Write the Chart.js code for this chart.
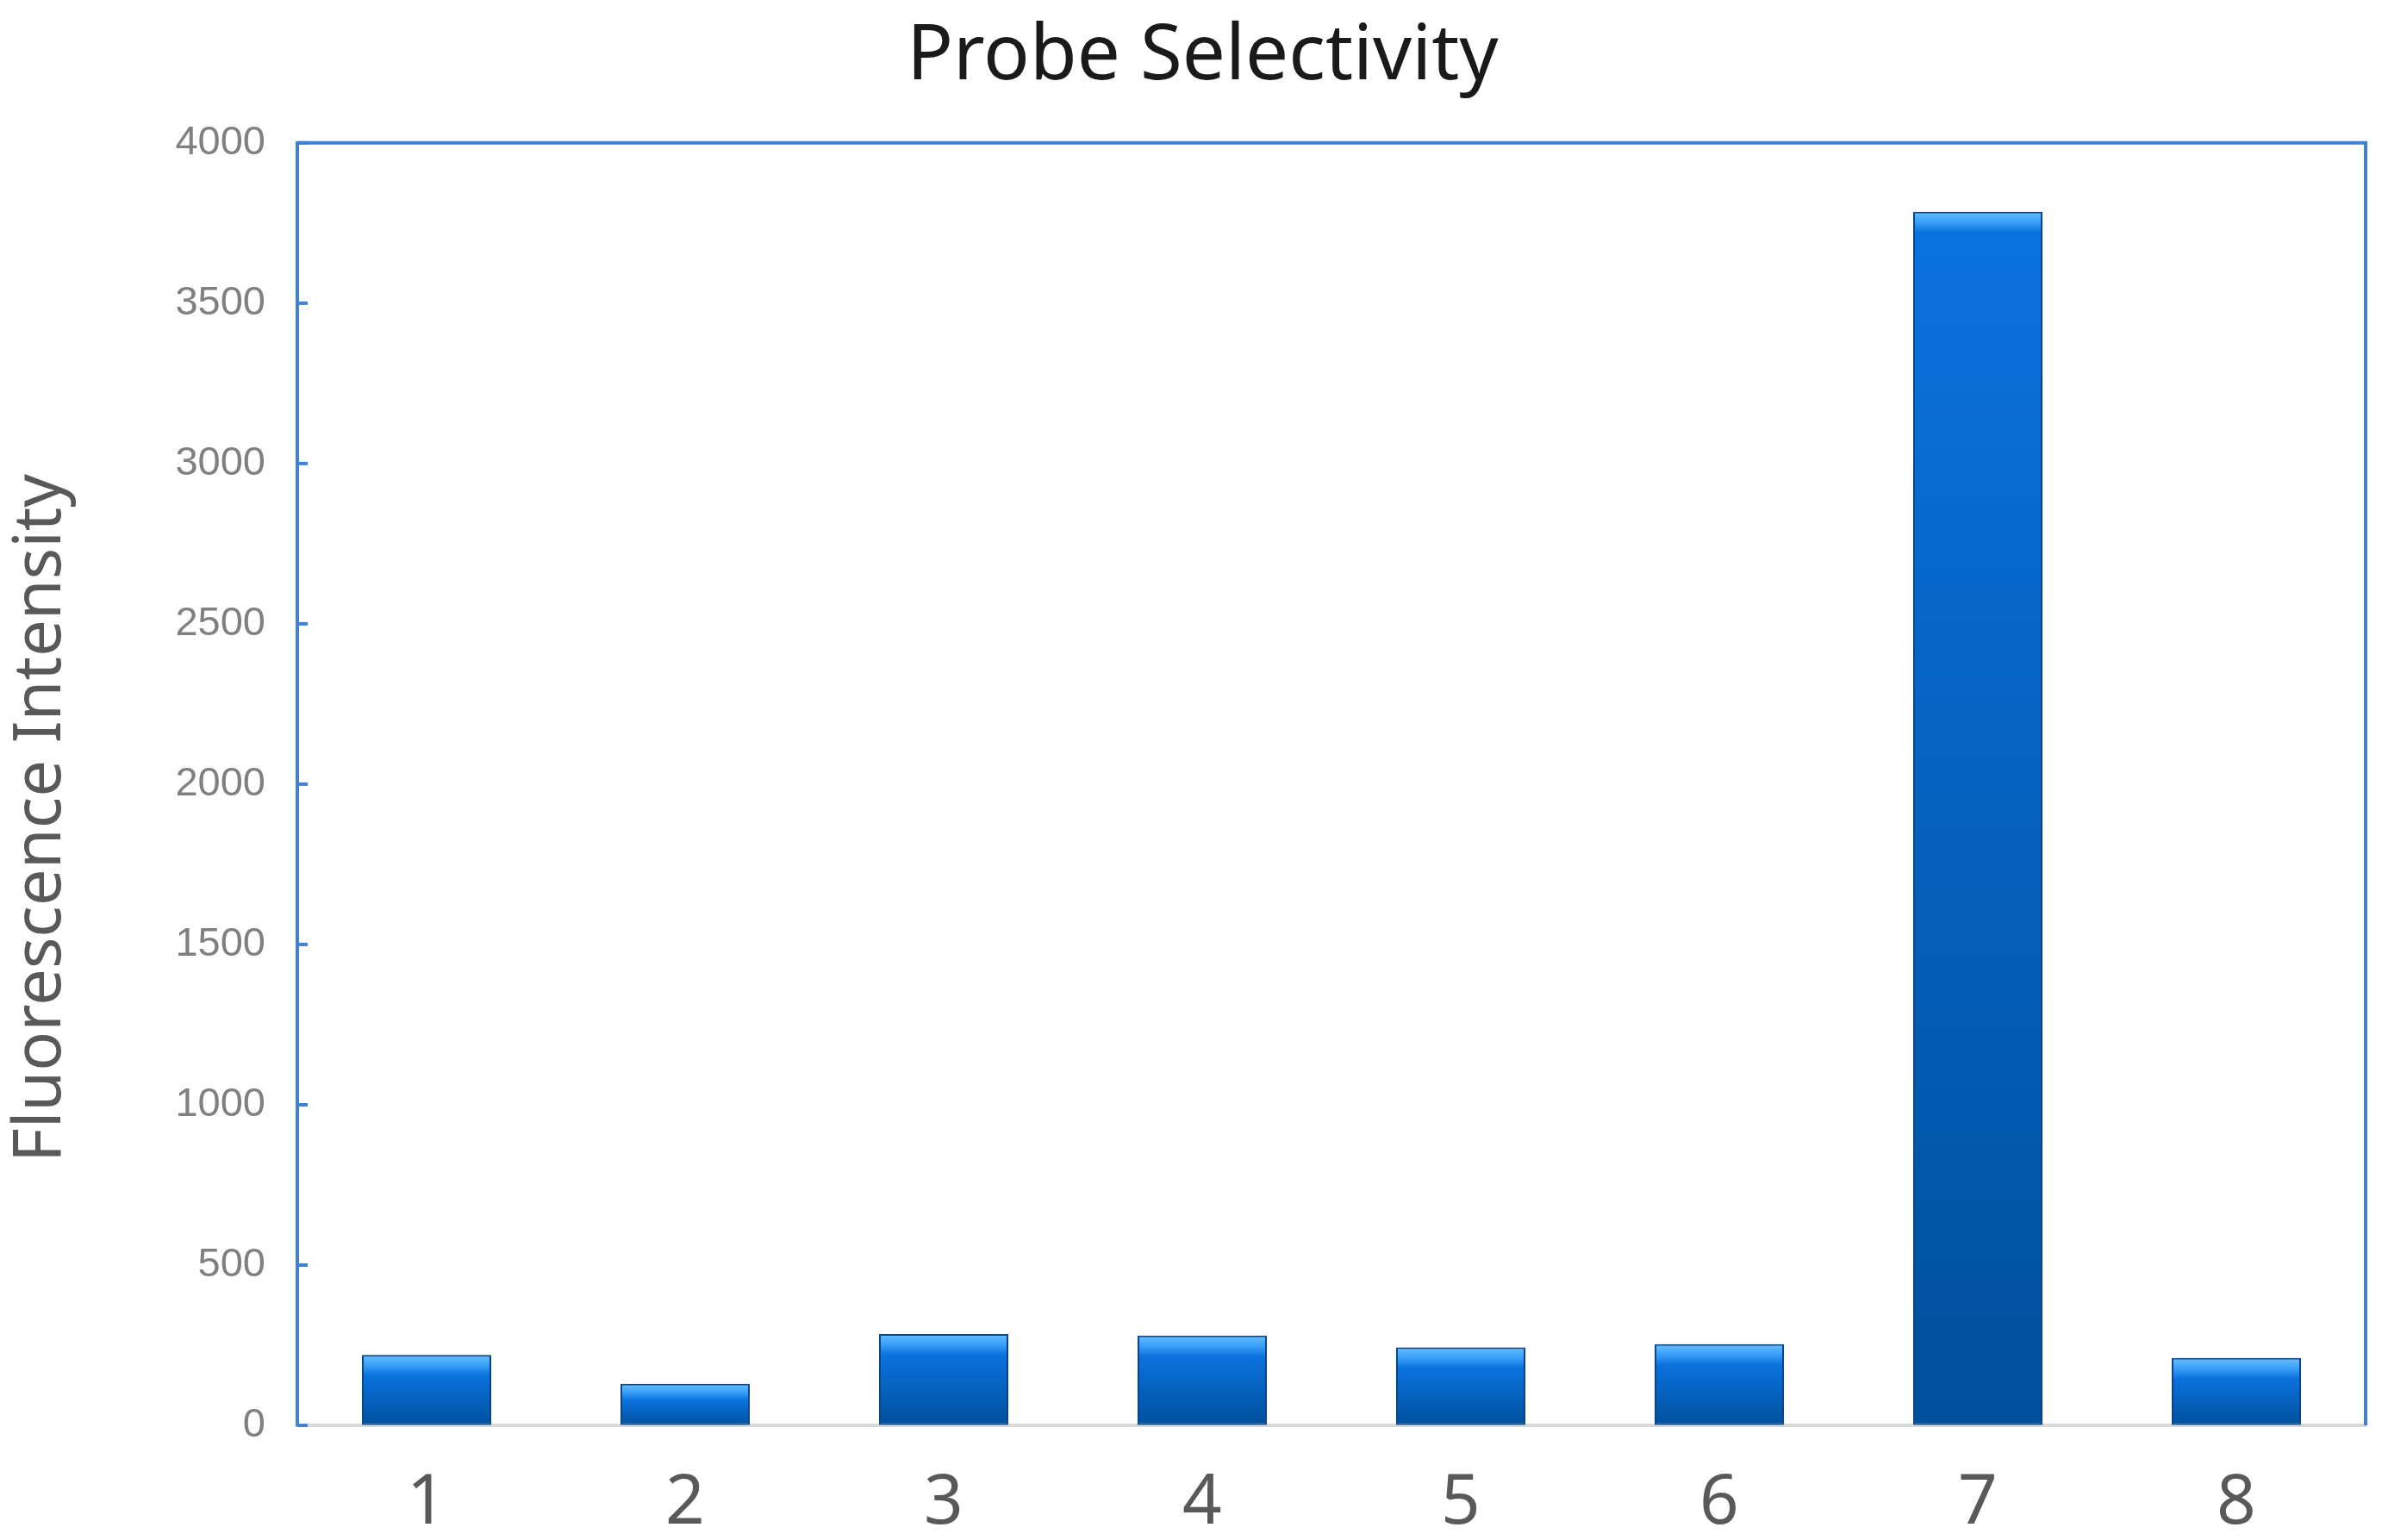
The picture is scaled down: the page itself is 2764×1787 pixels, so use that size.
<!DOCTYPE html>
<html>
<head>
<meta charset="utf-8">
<script src="https://cdn.jsdelivr.net/npm/chart.js@4/dist/chart.umd.min.js"></script>
<style>
  html, body { margin: 0; padding: 0; background: #fff; }
  #wrap { width: 2764px; height: 1787px; }
</style>
</head>
<body>
<div id="wrap"><canvas id="probeChart"></canvas></div>
<script>
// ── Data ──────────────────────────────────────────────────────────────────────
const categories = ['1', '2', '3', '4', '5', '6', '7', '8'];
const intensity  = [220, 130, 285, 280, 243, 253, 3785, 210];
const yMin = 0, yMax = 4000, yStep = 500;

const AXIS_BLUE = '#3f80d8';

// vertical gradient per bar, light bevel on top, darker towards base
function barFill(c) {
  const chart = c.chart;
  if (!chart.chartArea || c.type !== 'data') return '#0068d0';
  const y = chart.scales.y;
  const top = y.getPixelForValue(c.raw), base = y.getPixelForValue(0);
  const h = Math.max(base - top, 1);
  const b = Math.min(24 / h, 0.4);
  const g = chart.ctx.createLinearGradient(0, top, 0, base);
  g.addColorStop(0, '#66bfff');
  g.addColorStop(b * 0.5, '#3a9ff8');
  g.addColorStop(b, '#0a72de');
  g.addColorStop(1, '#00509c');
  return g;
}

// top/right frame + inward tick marks on the y axis
const framePlugin = {
  id: 'frame',
  beforeDatasetsDraw(chart) {
    const {ctx, chartArea: a, scales: {y}} = chart;
    ctx.save();
    ctx.strokeStyle = AXIS_BLUE;
    ctx.lineWidth = 4;
    ctx.beginPath();
    ctx.moveTo(a.left, a.top);
    ctx.lineTo(a.right, a.top);
    ctx.lineTo(a.right, a.bottom);
    ctx.stroke();
    y.ticks.forEach(t => {
      const py = y.getPixelForValue(t.value);
      ctx.beginPath();
      ctx.moveTo(a.left, py);
      ctx.lineTo(a.left + 12, py);
      ctx.stroke();
    });
    ctx.restore();
    ctx.save();
    ctx.shadowColor = 'rgba(0,0,0,0.28)';
    ctx.shadowBlur = 10;
  },
  afterDatasetsDraw(chart) {
    chart.ctx.restore();
  }
};

new Chart(document.getElementById('probeChart'), {
  type: 'bar',
  data: {
    labels: categories,
    datasets: [{
      data: intensity,
      backgroundColor: barFill,
      borderColor: '#0b4f96',
      borderWidth: 2,
      borderSkipped: false,
      barPercentage: 0.5,
      categoryPercentage: 1
    }]
  },
  options: {
    responsive: true,
    maintainAspectRatio: false,
    animation: false,
    layout: { padding: { left: 46, right: 19, top: 0, bottom: 0 } },
    plugins: {
      legend: { display: false },
      tooltip: { enabled: false },
      title: {
        display: true,
        text: 'Probe Selectivity',
        color: '#1a1a1a',
        font: { family: "'Noto Sans', sans-serif", size: 89, weight: 'normal' },
        padding: { top: 13, bottom: 46 }
      }
    },
    scales: {
      x: {
        grid: { display: false, drawTicks: false },
        border: { display: true, color: '#d9d9d9', width: 4 },
        ticks: {
          color: '#595959',
          padding: 43,
          font: { family: "'Noto Sans', sans-serif", size: 80 }
        },
        afterFit(s) { s.height = 133; }
      },
      y: {
        min: yMin,
        max: yMax,
        grid: { display: true, drawOnChartArea: false, drawTicks: false },
        border: { display: true, color: AXIS_BLUE, width: 4 },
        ticks: {
          stepSize: yStep,
          color: '#808080',
          padding: 37,
          font: { family: "'Liberation Sans', sans-serif", size: 47 },
          callback: v => String(v)
        },
        title: {
          display: true,
          text: 'Fluorescence Intensity    ',
          color: '#595959',
          padding: { top: -43, bottom: 0 },
          font: { family: "'Noto Sans', sans-serif", size: 76, weight: 'normal' }
        },
        afterFit(s) { s.width = 299; }
      }
    }
  },
  plugins: [framePlugin]
});
</script>
</body>
</html>
